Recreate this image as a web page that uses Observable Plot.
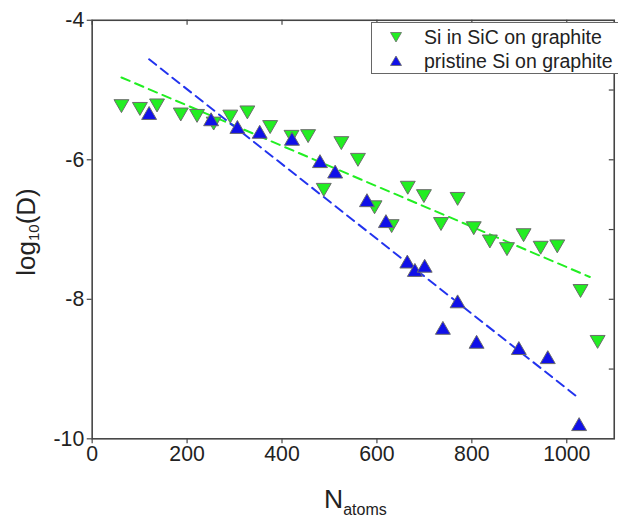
<!DOCTYPE html>
<html>
<head>
<meta charset="utf-8">
<script src="https://cdn.jsdelivr.net/npm/d3@7"></script>
<script src="https://cdn.jsdelivr.net/npm/@observablehq/plot@0.6"></script>
<style>
  html, body { margin: 0; padding: 0; background: #fff; overflow: hidden; }
  #wrap { position: relative; width: 618px; height: 519px; overflow: hidden; font-family: "Liberation Sans", Arial, sans-serif; color: #222; }
  #chart { position: absolute; left: 0; top: 0; }
  .ovl { position: absolute; white-space: nowrap; line-height: 1; }
  .ovl sub { line-height: 1; }
  #legend { position: absolute; left: 371px; top: 22px; width: 270px; height: 52px; border: 1.5px solid #666; background: #fff; box-sizing: border-box; }
  .row { position: absolute; left: 0; height: 24px; display: flex; align-items: center; font-size: 19.5px; color: #222; }
  .row svg { margin-left: 18px; margin-right: 22px; }
</style>
</head>
<body>
<div id="wrap">
  <div id="chart"></div>
  <div id="legend">
    <div class="row" style="top:2px"><svg width="12" height="12"><polygon points="0.5,1.5 11.5,1.5 6,11" fill="#22ee22" stroke="#6a6a6a" stroke-width="0.8"/></svg><span>Si in SiC on graphite</span></div>
    <div class="row" style="top:26px"><svg width="12" height="12"><polygon points="0.5,10.5 11.5,10.5 6,1" fill="#1010e8" stroke="#6a6a6a" stroke-width="0.8"/></svg><span>pristine Si on graphite</span></div>
  </div>
  <div class="ovl" id="ylab" style="left:27px; top:232px; font-size:26px; transform: translate(-50%,-50%) rotate(-90deg);">log<sub style="font-size:15px; vertical-align:-4px;">10</sub>(D)</div>
  <div class="ovl" id="xlab" style="left:324px; top:485.6px; font-size:26.5px;">N<sub style="font-size:16px; vertical-align:-7px;">atoms</sub></div>
</div>
<script>
// Series: Si in SiC on graphite (downward green triangles)
const sicX = [61.7, 100.6, 136.7, 186.7, 221, 256, 291, 327, 375, 420, 455, 488, 525, 560, 595, 631, 665, 699, 735, 770, 804, 838, 874, 909, 945, 980, 1029, 1065];
const sicY = [-5.20, -5.24, -5.19, -5.32, -5.34, -5.45, -5.35, -5.29, -5.50, -5.64, -5.63, -6.40, -5.73, -5.97, -6.65, -6.92, -6.37, -6.49, -6.89, -6.53, -6.95, -7.14, -7.25, -7.05, -7.23, -7.21, -7.85, -8.58];

// Series: pristine Si on graphite (upward blue triangles)
const priX = [120, 250.6, 306, 353, 421, 480, 512, 579, 619, 664, 680, 700.6, 739, 770, 810, 899, 960, 1026];
const priY = [-5.36, -5.45, -5.56, -5.63, -5.73, -6.05, -6.20, -6.61, -6.91, -7.49, -7.61, -7.55, -8.44, -8.06, -8.64, -8.73, -8.86, -9.82];

// Fitted dashed lines (end points)
const sicFitX = [61.7, 1048.6];
const sicFitY = [-4.82, -7.68];
const priFitX = [120, 1026];
const priFitY = [-4.56, -9.42];

// Ticks
const xTicks = [0, 200, 400, 600, 800, 1000];
const yTicks = [-10, -8, -6, -4];
const yMinorTicks = [-9, -8, -7, -6, -5];

const green = "#22ee22", blue = "#1010e8";
const axisColor = "#444";

const W = 625, H = 519, mL = 92.7, mR = 4.3, mT = 20, mB = 75.7;
const innerW = W - mL - mR, innerH = H - mT - mB;

const chart = Plot.plot({
  width: W,
  height: H,
  marginLeft: mL,
  marginRight: mR,
  marginTop: mT,
  marginBottom: mB,
  style: { fontFamily: "Liberation Sans, Arial, sans-serif", background: "transparent", color: "#222" },
  x: { domain: [0, 1100] },
  y: { domain: [-10, -4] },
  marks: [
    Plot.frame({ stroke: axisColor, strokeWidth: 1.6 }),
    Plot.axisX(xTicks, { anchor: "bottom", tickSize: 5, tickPadding: 2, fontSize: 21.5, label: null, tickFormat: d => String(d), stroke: axisColor, strokeWidth: 1.2 }),
    Plot.tickX(xTicks, { x: d => d, insetBottom: innerH - 5, stroke: axisColor, strokeWidth: 1.2 }),
    Plot.axisY(yTicks, { anchor: "left", tickSize: 5, tickPadding: 3, fontSize: 21.5, label: null, tickFormat: d => String(d), stroke: axisColor, strokeWidth: 1.2 }),
    Plot.tickY(yMinorTicks, { y: d => d, insetLeft: innerW - 5, stroke: axisColor, strokeWidth: 1.2 }),
    Plot.line(sicFitX, { x: sicFitX, y: sicFitY, stroke: green, strokeWidth: 2, strokeDasharray: "9,6" }),
    Plot.line(priFitX, { x: priFitX, y: priFitY, stroke: "#2233ee", strokeWidth: 2, strokeDasharray: "9,6" }),
    Plot.dot(sicX, { x: sicX, y: sicY, symbol: "triangle", rotate: 180, r: 5.6, fill: green, stroke: "#6a6a6a", strokeWidth: 1 }),
    Plot.dot(priX, { x: priX, y: priY, symbol: "triangle", r: 5.6, fill: blue, stroke: "#6a6a6a", strokeWidth: 1 })
  ]
});
document.getElementById("chart").appendChild(chart);
</script>
</body>
</html>
